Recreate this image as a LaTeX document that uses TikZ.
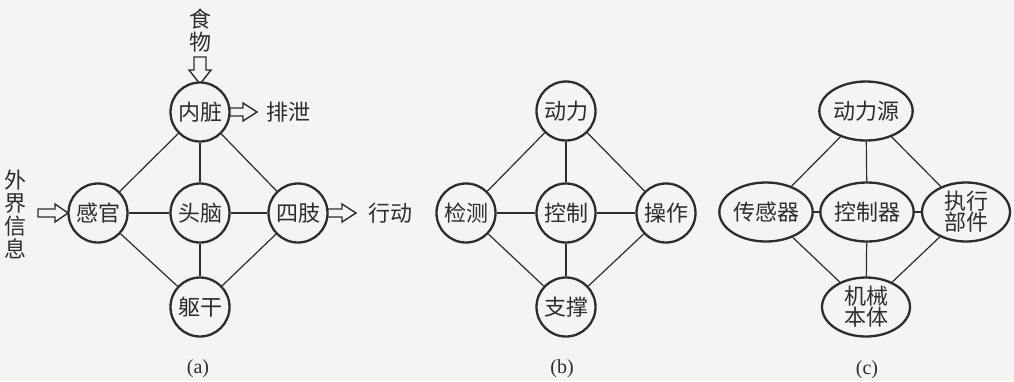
\documentclass[tikz,border=0pt]{standalone}
\usepackage{fontspec}
\newfontfamily\cjk{Noto Sans CJK SC}
\newfontfamily\labfont{Liberation Serif}
\definecolor{ink}{RGB}{45,45,45}
\definecolor{paper}{RGB}{244,244,242}
\usetikzlibrary{shapes.geometric}
\tikzset{
  every picture/.style={x=1pt,y=-1pt},
  circ/.style={circle,draw=ink,line width=2.3pt,fill=paper,minimum size=59pt,inner sep=0pt,
     text=ink,font=\cjk\fontsize{22}{24}\selectfont},
  ell/.style={ellipse,draw=ink,line width=2.3pt,fill=paper,minimum width=88pt,minimum height=59pt,inner sep=0pt,
     text=ink,font=\cjk\fontsize{22}{24}\selectfont},
  txt/.style={text=ink,font=\cjk\fontsize{22}{24}\selectfont,inner sep=0pt},
  lab/.style={text=ink,font=\labfont\fontsize{20}{22}\selectfont,inner sep=0pt},
  link/.style={draw=ink,line width=1.2pt},
  harrow/.style={draw=ink,line width=1.4pt,fill=paper,line join=miter},
}
\begin{document}
\begin{tikzpicture}
\useasboundingbox[fill=paper] (0,0) rectangle (1014,381);
% ---------- (a) ----------
\draw[harrow] (194,57) -- (206,57) -- (206,70) -- (211,70) -- (200,84) -- (189,70) -- (194,70) -- cycle;
\draw[harrow] (222,108) -- (243,108) -- (243,103) -- (257,112) -- (243,121) -- (243,116) -- (222,116) -- cycle;
\draw[harrow] (38,209) -- (55,209) -- (55,204) -- (68,213) -- (55,222) -- (55,217) -- (38,217) -- cycle;
\draw[harrow] (321,209) -- (342,209) -- (342,204) -- (356,213) -- (342,222) -- (342,217) -- (321,217) -- cycle;
\node[circ] (nz) at (200,112) {内脏};
\node[circ] (gg) at (98,213) {感官};
\node[circ] (tn) at (200,213) {头脑};
\node[circ] (sz) at (298,213) {四肢};
\node[circ] (qg) at (200,307) {躯干};
\foreach \a/\b in {nz/gg,nz/tn,nz/sz,gg/tn,tn/sz,tn/qg,gg/qg,sz/qg}
  \draw[link] (\a) -- (\b);
\node[txt] (sw) at (200,19) {食};
\node[txt] (sw2) at (200,42) {物};
\node[txt] (px) at (288,112) {排泄};
\node[txt] (xd) at (390,213) {行动};
\node[txt,align=center] (wj) at (16,214) {外\\[-1pt]界\\[-1pt]信\\[-1pt]息};
\node[lab] (la) at (198,369) {(a)};
% ---------- (b) ----------
\node[circ] (dl) at (566,111) {动力};
\node[circ] (jc) at (466,213) {检测};
\node[circ] (kz) at (566,213) {控制};
\node[circ] (cz) at (666,213) {操作};
\node[circ] (zc) at (566,307) {支撑};
\foreach \a/\b in {dl/jc,dl/kz,dl/cz,jc/kz,kz/cz,kz/zc,jc/zc,cz/zc}
  \draw[link] (\a) -- (\b);
\node[lab] (lb) at (562,369) {(b)};
% ---------- (c) ----------
\node[ell] (dly) at (866,111) {动力源};
\node[ell,minimum width=85pt] (cgq) at (766,212) {传感器};
\node[ell] (kzq) at (867,212) {控制器};
\node[ell,align=center,font=\cjk\fontsize{22}{21}\selectfont] (zx) at (966,212) {执行\\部件};
\node[ell,align=center,font=\cjk\fontsize{22}{21}\selectfont] (jx) at (866,307) {机械\\本体};
\foreach \a/\b in {dly/cgq,dly/kzq,dly/zx,cgq/kzq,kzq/zx,kzq/jx,cgq/jx,zx/jx}
  \draw[link] (\a) -- (\b);
\node[lab] (lc) at (867,370) {(c)};
\end{tikzpicture}
\end{document}
